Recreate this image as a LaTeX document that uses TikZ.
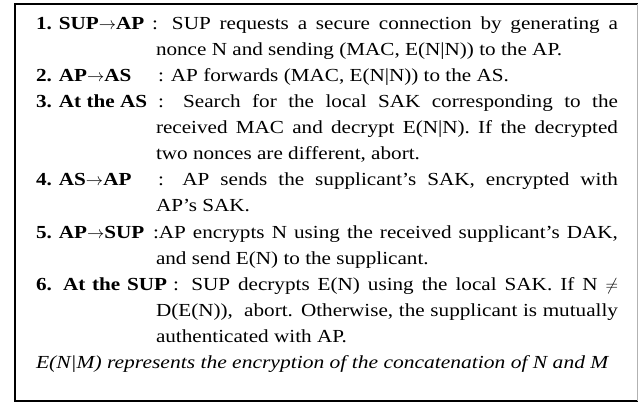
\documentclass[tikz,border=0pt]{standalone}
\usepackage{fontspec}
\setmainfont{Liberation Serif}[UprightFeatures={FakeStretch=1.15}, BoldFeatures={FakeStretch=1.15}, ItalicFeatures={FakeStretch=1.17}]
\begin{document}
\begin{tikzpicture}[x=1pt,y=-1pt,
  txt/.style={anchor=base west, inner sep=0pt, outer sep=0pt, font=\fontsize{18.4}{26}\selectfont},
  lbl/.style={txt, font=\fontsize{18.4}{26}\selectfont\bfseries},
  note/.style={txt, font=\fontsize{18.4}{26}\selectfont\itshape}]
\useasboundingbox (0,0) rectangle (639,403);
\fill[white] (0,0) rectangle (639,403);
% frame
\draw[line width=1.3pt, line cap=rect] (637,4) -- (15,4) -- (15,401) -- (637,401);
\draw[gray!60, line width=0.6pt] (637,4) -- (637,401);
\newcommand{\ar}{$\rightarrow$}
\newcommand{\jb}[2]{\makebox[#1pt][s]{#2}}
% item 1
\node[lbl] (l1) at (36,30) {1. SUP\ar AP};
\node[txt] (b1) at (152,30) {\jb{466}{: SUP requests a secure connection by generating a}};
\node[txt] (c1) at (156,56) {nonce N and sending (MAC, E(N|N)) to the AP.};
% item 2
\node[lbl] (l2) at (36,82) {2. AP\ar AS};
\node[txt] (b2) at (158,82) {: AP forwards (MAC, E(N|N)) to the AS.};
% item 3
\node[lbl] (l3) at (36,108) {3. At the AS};
\node[txt] (b3) at (158,108) {\jb{460}{: Search for the local SAK corresponding to the}};
\node[txt] (c3) at (156,134) {\jb{462}{received MAC and decrypt E(N|N). If the decrypted}};
\node[txt] (d3) at (156,160) {two nonces are different, abort.};
% item 4
\node[lbl] (l4) at (36,186) {4. AS\ar AP};
\node[txt] (b4) at (158,186) {\jb{460}{: AP sends the supplicant’s SAK, encrypted with}};
\node[txt] (c4) at (156,212) {AP’s SAK.};
% item 5
\node[lbl] (l5) at (36,238) {5. AP\ar SUP};
\node[txt] (b5) at (153,238) {\jb{465}{:AP encrypts N using the received supplicant’s DAK,}};
\node[txt] (c5) at (156,264) {and send E(N) to the supplicant.};
% item 6
\node[lbl] (l6) at (36,290) {\makebox[131pt][s]{6. At the SUP}};
\node[txt] (b6) at (173,290) {\jb{445}{: SUP decrypts E(N) using the local SAK. If N $\neq$}};
\node[txt] (c6) at (156,316) {\jb{462}{D(E(N)),\ \ abort. Otherwise, the supplicant is mutually}};
\node[txt] (d6) at (156,342) {authenticated with AP.};
% note
\node[note] (nt) at (36,368) {E(N|M) represents the encryption of the concatenation of N and M};
\end{tikzpicture}
\end{document}
